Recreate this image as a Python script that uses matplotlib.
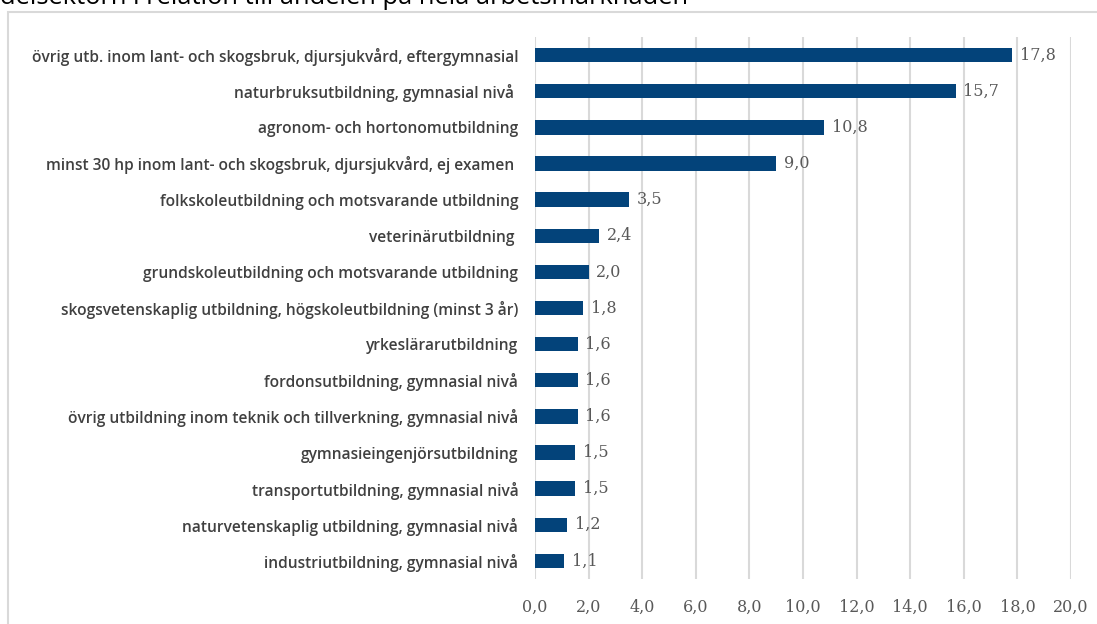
import matplotlib
matplotlib.use("Agg")
import matplotlib.pyplot as plt
from matplotlib.patches import Rectangle

# Utbildningar i delsektorn, andel i förhållande till hela arbetsmarknaden
utbildningar = [
    "övrig utb. inom lant- och skogsbruk, djursjukvård, eftergymnasial",
    "naturbruksutbildning, gymnasial nivå ",
    "agronom- och hortonomutbildning",
    "minst 30 hp inom lant- och skogsbruk, djursjukvård, ej examen ",
    "folkskoleutbildning och motsvarande utbildning",
    "veterinärutbildning ",
    "grundskoleutbildning och motsvarande utbildning",
    "skogsvetenskaplig utbildning, högskoleutbildning (minst 3 år)",
    "yrkeslärarutbildning",
    "fordonsutbildning, gymnasial nivå",
    "övrig utbildning inom teknik och tillverkning, gymnasial nivå",
    "gymnasieingenjörsutbildning",
    "transportutbildning, gymnasial nivå",
    "naturvetenskaplig utbildning, gymnasial nivå",
    "industriutbildning, gymnasial nivå",
]
kvot = [17.8, 15.7, 10.8, 9.0, 3.5, 2.4, 2.0, 1.8, 1.6, 1.6, 1.6, 1.5, 1.5, 1.2, 1.1]
x_ticks = [0, 2, 4, 6, 8, 10, 12, 14, 16, 18, 20]

BAR = "#03437A"
GRID = "#D9D9D9"
TXT = "#404040"
NUM = "#595959"

W, H = 1097, 624
fig = plt.figure(figsize=(W / 100, H / 100), dpi=100)

# diagramram och rubrik (rubriken sticker ut ovanför bildkanten)
fig.patches.append(Rectangle((8 / W, -0.1), 1.2, 1 - 12 / H + 0.1,
                             transform=fig.transFigure, fill=False,
                             edgecolor=GRID, linewidth=1.5))
fig.text(0.0, 1 - 4 / H, "delsektorn i relation till andelen på hela arbetsmarknaden",
         fontsize=18.4, family="Open Sans", color="black", va="baseline")

ax = fig.add_axes([535 / W, 1 - 579 / H, (1071 - 535) / W, (579 - 37) / H])
pos = list(range(len(kvot)))
ax.barh(pos, kvot, height=0.4, color=BAR, zorder=3)
ax.set_ylim(len(kvot) - 0.5, -0.5)
ax.set_xlim(0, 20)
ax.set_xticks(x_ticks)
ax.set_xticklabels([f"{t:.1f}".replace(".", ",") for t in x_ticks],
                   family="DejaVu Serif", fontsize=11.5, color=NUM)
ax.set_yticks(pos)
ax.set_yticklabels(utbildningar, family="Open Sans", fontweight="semibold",
                   fontsize=11.2, color=TXT)
ax.tick_params(axis="both", length=0)
ax.tick_params(axis="y", pad=12)
ax.tick_params(axis="x", pad=14)
ax.grid(axis="x", color=GRID, linewidth=1.5, zorder=0)
for s in ax.spines.values():
    s.set_visible(False)

for p, v in zip(pos, kvot):
    ax.text(v + 0.28, p, f"{v:.1f}".replace(".", ","), va="center", ha="left",
            family="DejaVu Serif", fontsize=11.5, color=NUM)

fig.savefig("out.png", dpi=100)
